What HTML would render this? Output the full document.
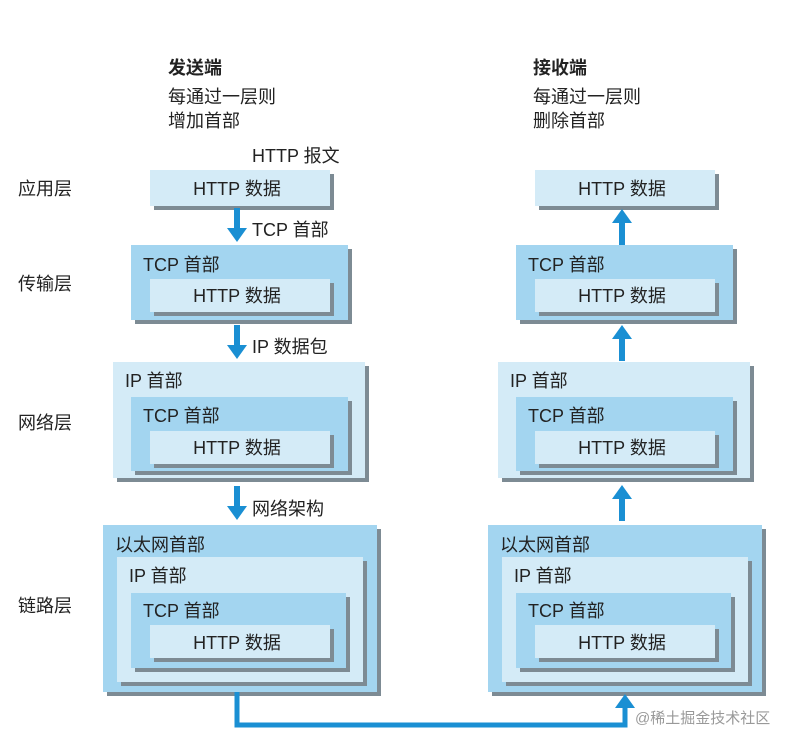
<!DOCTYPE html>
<html><head><meta charset="utf-8"><style>
html,body{margin:0;padding:0;background:#fff;}
svg{display:block;}
text{font-family:"Liberation Sans","Noto Sans CJK SC",sans-serif;fill:#222;font-size:18px;}
.b{font-weight:bold;}
</style></head><body>
<svg width="807" height="747" viewBox="0 0 807 747" xmlns="http://www.w3.org/2000/svg">
<defs>
<g id="arrowD"><rect x="-3" y="0" width="6" height="22" fill="#1a8fd3"/><polygon points="-10,20 10,20 0,34" fill="#1a8fd3"/></g>
<g id="arrowU"><rect x="-3" y="12" width="6" height="24" fill="#1a8fd3"/><polygon points="-10,14 10,14 0,0" fill="#1a8fd3"/></g>
</defs>

<text x="168" y="74" class="b">发送端</text>
<text x="168" y="103">每通过一层则</text>
<text x="168" y="127">增加首部</text>
<text x="533" y="74" class="b">接收端</text>
<text x="533" y="103">每通过一层则</text>
<text x="533" y="127">删除首部</text>
<text x="252" y="162">HTTP 报文</text>

<text x="18" y="195">应用层</text>
<text x="18" y="290">传输层</text>
<text x="18" y="429">网络层</text>
<text x="18" y="612">链路层</text>

<g id="L">
<rect x="154" y="174" width="180" height="36" fill="#7d8b94"/>
<rect x="150" y="170" width="180" height="36" fill="#d4ebf7"/>
<text x="237" y="195" text-anchor="middle">HTTP 数据</text>
<rect x="135" y="249" width="217" height="75" fill="#7d8b94"/>
<rect x="131" y="245" width="217" height="75" fill="#a3d5f0"/>
<text x="143" y="271">TCP 首部</text>
<rect x="154" y="283" width="180" height="33" fill="#7d8b94"/>
<rect x="150" y="279" width="180" height="33" fill="#d4ebf7"/>
<text x="237" y="302" text-anchor="middle">HTTP 数据</text>
<rect x="117" y="366" width="252" height="116" fill="#7d8b94"/>
<rect x="113" y="362" width="252" height="116" fill="#d4ebf7"/>
<text x="125" y="387">IP 首部</text>
<rect x="135" y="401" width="217" height="74" fill="#7d8b94"/>
<rect x="131" y="397" width="217" height="74" fill="#a3d5f0"/>
<text x="143" y="422">TCP 首部</text>
<rect x="154" y="435" width="180" height="33" fill="#7d8b94"/>
<rect x="150" y="431" width="180" height="33" fill="#d4ebf7"/>
<text x="237" y="454" text-anchor="middle">HTTP 数据</text>
<rect x="107" y="529" width="274" height="167" fill="#7d8b94"/>
<rect x="103" y="525" width="274" height="167" fill="#a3d5f0"/>
<text x="115" y="551">以太网首部</text>
<rect x="121" y="561" width="246" height="125" fill="#7d8b94"/>
<rect x="117" y="557" width="246" height="125" fill="#d4ebf7"/>
<text x="129" y="582">IP 首部</text>
<rect x="135" y="597" width="215" height="75" fill="#7d8b94"/>
<rect x="131" y="593" width="215" height="75" fill="#a3d5f0"/>
<text x="143" y="617">TCP 首部</text>
<rect x="154" y="629" width="180" height="33" fill="#7d8b94"/>
<rect x="150" y="625" width="180" height="33" fill="#d4ebf7"/>
<text x="237" y="649" text-anchor="middle">HTTP 数据</text>
</g>
<use href="#L" transform="translate(385,0)"/>

<use href="#arrowD" transform="translate(237,208)"/>
<text x="252" y="236">TCP 首部</text>
<use href="#arrowD" transform="translate(237,325)"/>
<text x="252" y="353">IP 数据包</text>
<use href="#arrowD" transform="translate(237,486)"/>
<text x="252" y="515">网络架构</text>

<use href="#arrowU" transform="translate(622,209)"/>
<use href="#arrowU" transform="translate(622,325)"/>
<use href="#arrowU" transform="translate(622,485)"/>

<polyline points="237,692 237,725 625,725 625,706" fill="none" stroke="#1a8fd3" stroke-width="5"/>
<polygon points="615,708 635,708 625,694" fill="#1a8fd3"/>
<text x="635" y="723" style="font-size:15px;fill:#999;">@稀土掘金技术社区</text>
</svg>
</body></html>
